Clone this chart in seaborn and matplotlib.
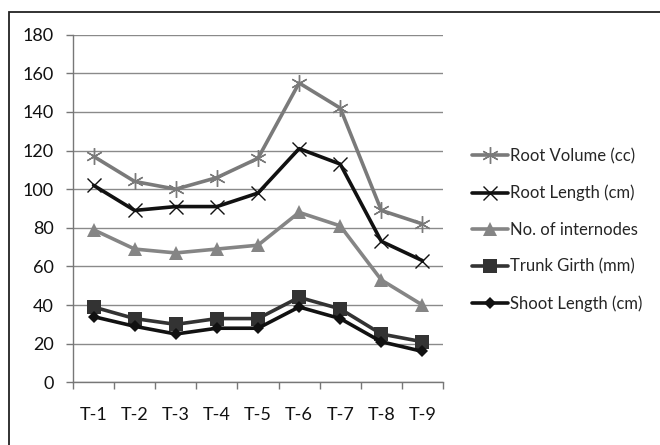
import matplotlib
matplotlib.use("Agg")
import matplotlib.pyplot as plt
from matplotlib.patches import Rectangle
import seaborn as sns
import pandas as pd

treatments = ["T-1", "T-2", "T-3", "T-4", "T-5", "T-6", "T-7", "T-8", "T-9"]
root_volume = [117, 104, 100, 106, 116, 155, 142, 89, 82]
root_length = [102, 89, 91, 91, 98, 121, 113, 73, 63]
internodes = [79, 69, 67, 69, 71, 88, 81, 53, 40]
trunk_girth = [39, 33, 30, 33, 33, 44, 38, 25, 21]
shoot_length = [34, 29, 25, 28, 28, 39, 33, 21, 16]

series = [
    ("Root Volume (cc)", root_volume, "#7a7a7a", (6, 2, 0), 12, 1.0),
    ("Root Length (cm)", root_length, "#111111", "x", 10, 1.0),
    ("No. of internodes", internodes, "#858585", "^", 10, 0),
    ("Trunk Girth (mm)", trunk_girth, "#333333", "s", 10.5, 0),
    ("Shoot Length (cm)", shoot_length, "#111111", "D", 6.5, 0),
]

sns.set_style("white")
plt.rcParams["font.family"] = ["Lato", "DejaVu Sans"]

fig = plt.figure(figsize=(6.6, 4.45), dpi=100)
ax = fig.add_axes([73 / 660, 1 - 382.3 / 445, 370 / 660, 347.6 / 445])

for name, vals, color, marker, ms, mew in series:
    df = pd.DataFrame({"x": range(len(treatments)), "y": vals})
    kw = dict(markeredgewidth=mew) if mew else dict(markeredgewidth=0)
    if mew:
        kw["markeredgecolor"] = color
    sns.lineplot(data=df, x="x", y="y", ax=ax, color=color, marker=marker,
                 markersize=ms, linewidth=2.6, label=name, **kw)

ax.set_xlim(-0.5, len(treatments) - 0.5)
ax.set_ylim(0, 180)
ax.set_yticks(range(0, 181, 20))
ax.set_xticks(range(len(treatments)))
ax.set_xticklabels(treatments)
ax.set_xticks([i - 0.5 for i in range(len(treatments) + 1)], minor=True)
ax.tick_params(axis="x", which="major", length=0, pad=18, labelsize=13, colors="#111111")
ax.tick_params(axis="x", which="minor", length=5, width=1, color="#777777", direction="out", bottom=True)
ax.tick_params(axis="y", length=5, width=1, color="#777777", direction="out", left=True,
               labelsize=13, pad=9, labelcolor="#111111")
ax.set_xlabel("")
ax.set_ylabel("")
ax.grid(axis="y", color="#8a8a8a", linewidth=1)
ax.set_axisbelow(True)
for s in ["top", "right"]:
    ax.spines[s].set_visible(False)
for s in ["left", "bottom"]:
    ax.spines[s].set_color("#777777")
    ax.spines[s].set_linewidth(1)

leg = ax.legend(loc="center left", bbox_to_anchor=(465 / 660, 1 - 230 / 445),
                bbox_transform=fig.transFigure, frameon=False, fontsize=12,
                handlelength=2.2, handletextpad=0.08, labelspacing=1.24,
                borderaxespad=0)

fig.patches.append(Rectangle((9 / 660, -0.1), 2, 1 - 12 / 445 + 0.1,
                             transform=fig.transFigure, fill=False,
                             edgecolor="#222222", linewidth=1.3))

fig.savefig("out.png", dpi=100)
